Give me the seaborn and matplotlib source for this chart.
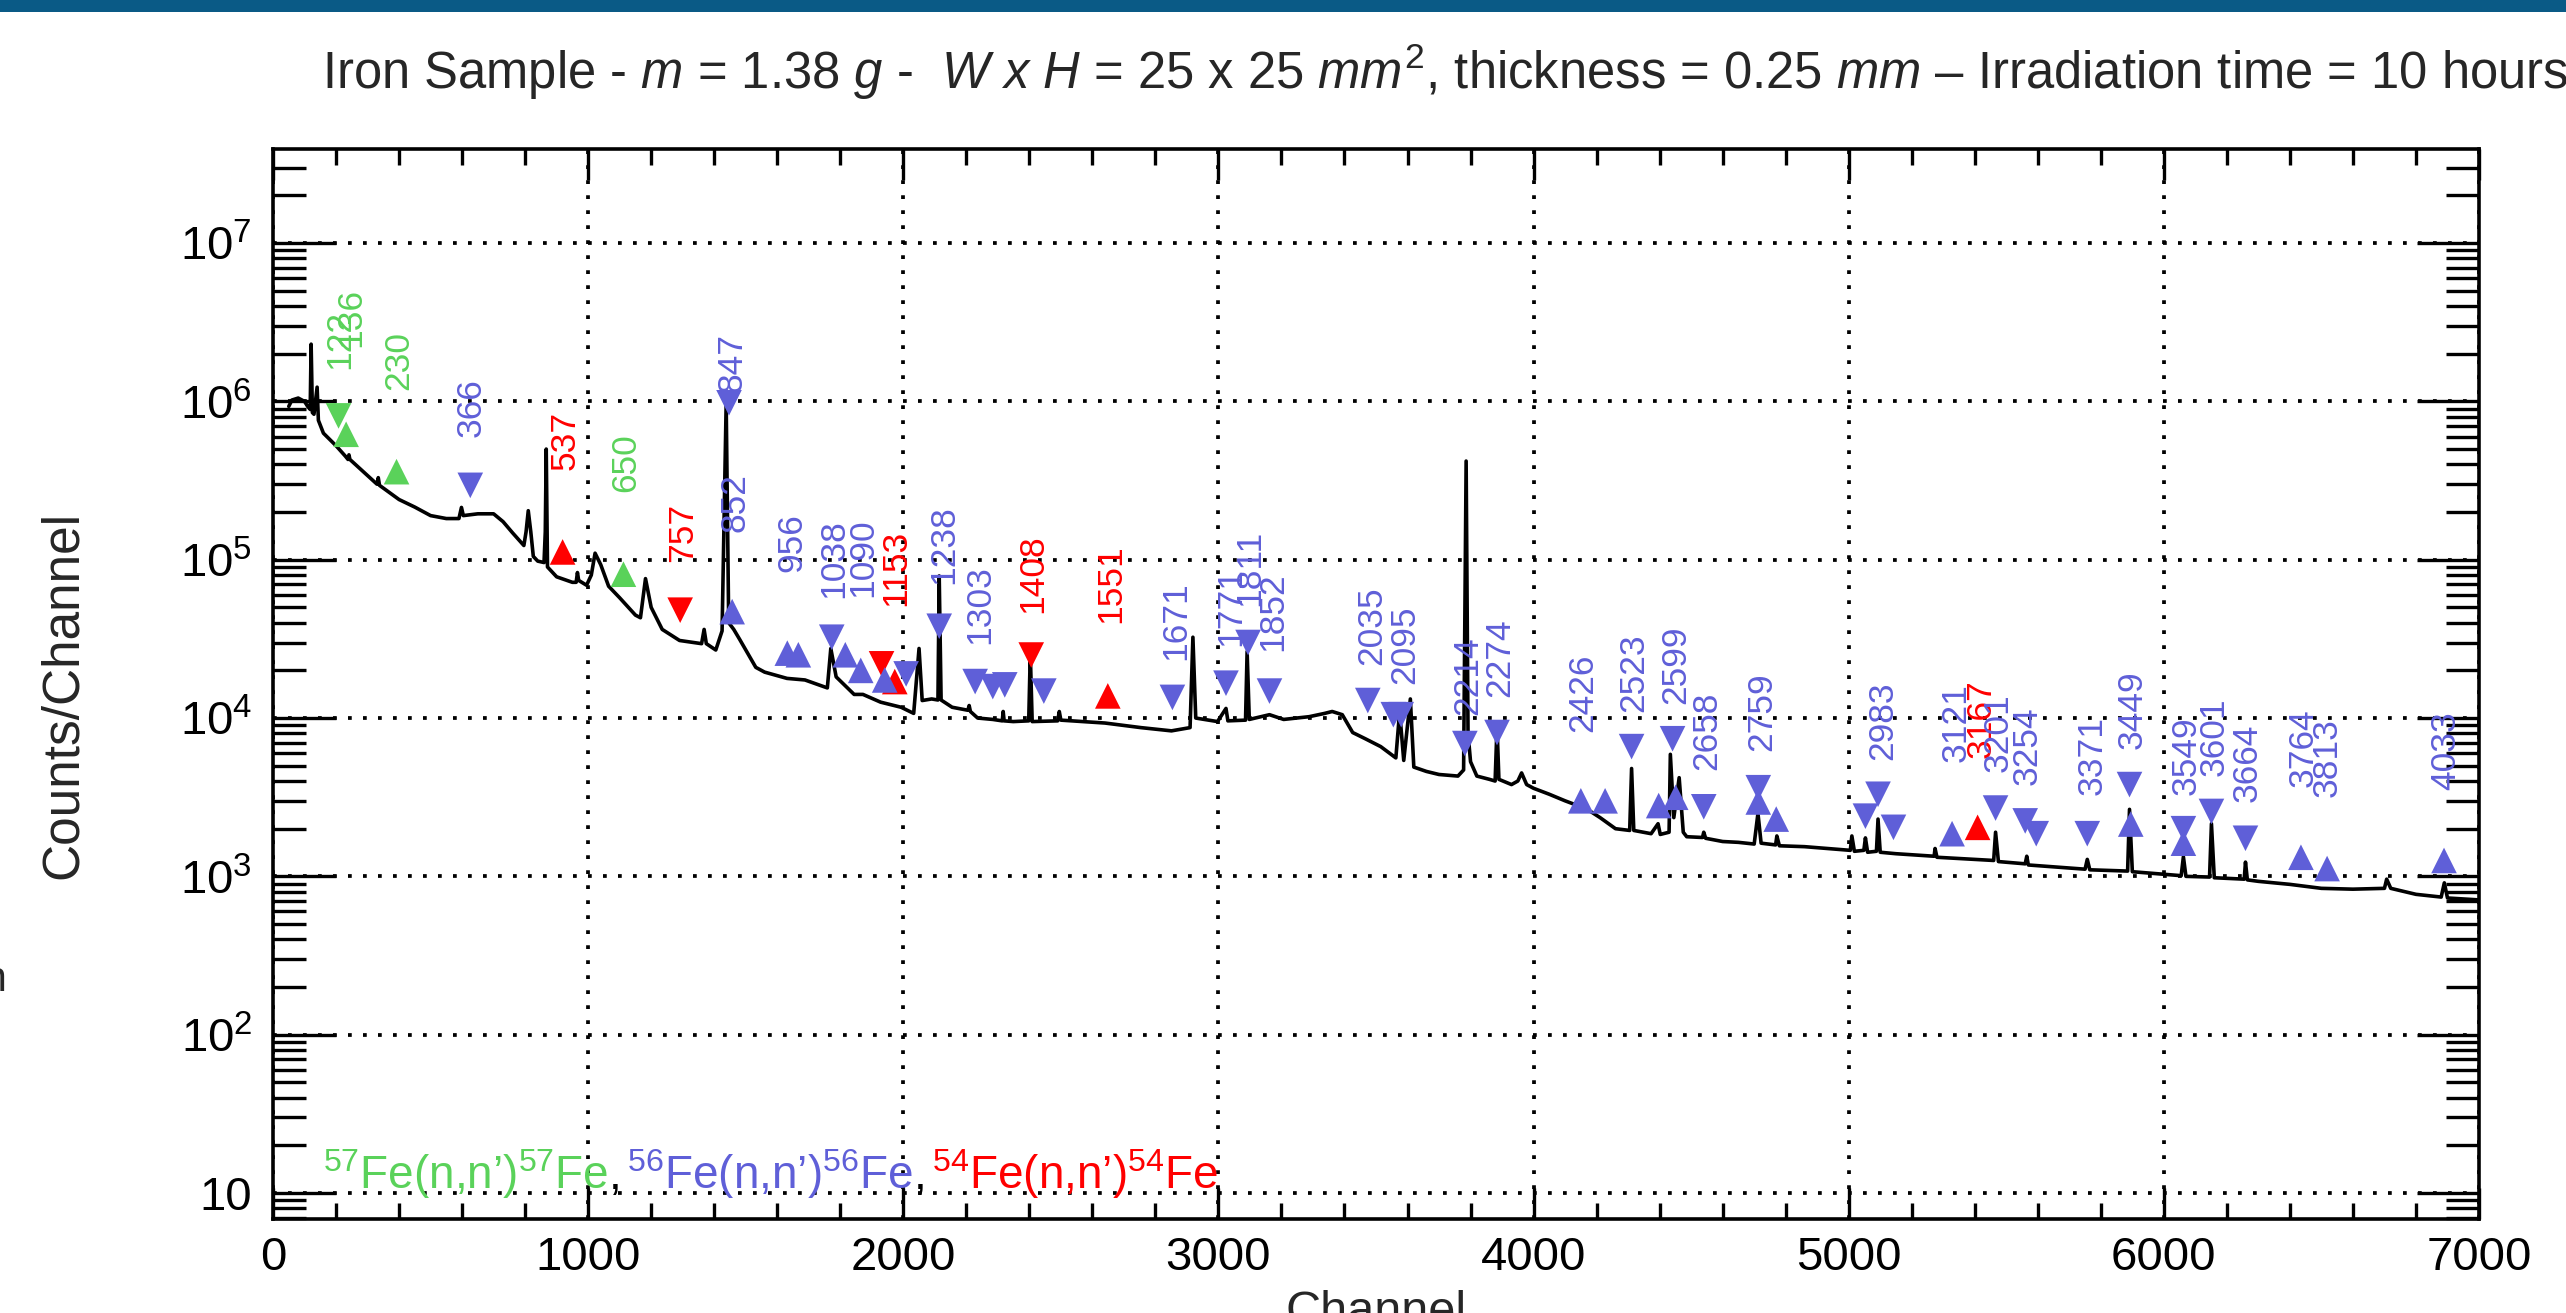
import numpy as np
import pandas as pd
import matplotlib
matplotlib.use("Agg")
import matplotlib.pyplot as plt
import matplotlib.transforms as mtransforms
from matplotlib.ticker import MultipleLocator, LogLocator, FixedLocator, FuncFormatter, NullFormatter
from matplotlib.patches import Rectangle
import seaborn as sns

# spectrum (channel, counts/channel)
spec_channel = [50, 60, 80, 100, 110, 118, 121, 125, 130, 140, 144, 160, 180, 200, 230, 238, 241, 244,
                280, 330, 334, 338, 400, 450, 500, 550, 590, 598, 604, 650, 700, 730, 760, 796, 803,
                810, 818, 826, 840, 860, 864, 867, 871, 900, 950, 962, 966, 970, 995, 1010, 1022, 1040,
                1065, 1100, 1150, 1166, 1182, 1200, 1235, 1290, 1360, 1368, 1375, 1405, 1425, 1438,
                1446, 1462, 1480, 1532, 1560, 1631, 1688, 1759, 1770, 1787, 1844, 1872, 1928, 1993,
                2033, 2050, 2060, 2090, 2110, 2114, 2120, 2155, 2205, 2209, 2213, 2236, 2284, 2314,
                2317, 2320, 2349, 2398, 2403, 2409, 2490, 2495, 2500, 2640, 2754, 2851, 2910, 2919,
                2928, 2997, 3024, 3030, 3086, 3091, 3098, 3162, 3207, 3288, 3337, 3361, 3393, 3426,
                3466, 3515, 3563, 3575, 3588, 3609, 3620, 3660, 3700, 3760, 3778, 3786, 3792, 3800,
                3820, 3860, 3878, 3884, 3890, 3930, 3950, 3962, 3978, 4000, 4050, 4100, 4140, 4150,
                4158, 4211, 4260, 4305, 4311, 4318, 4373, 4395, 4402, 4430, 4434, 4445, 4462, 4475,
                4486, 4536, 4540, 4546, 4600, 4650, 4700, 4712, 4722, 4768, 4772, 4780, 4860, 4950,
                5005, 5010, 5018, 5048, 5053, 5060, 5088, 5093, 5100, 5150, 5200, 5271, 5274, 5280,
                5400, 5460, 5466, 5475, 5560, 5565, 5570, 5700, 5750, 5757, 5765, 5885, 5891, 5900,
                6000, 6055, 6062, 6070, 6145, 6151, 6160, 6255, 6259, 6265, 6300, 6400, 6500, 6600,
                6700, 6707, 6720, 6800, 6880, 6890, 6900, 7000]
spec_counts = [9.3e5, 1.02e6, 1.05e6, 1.0e6, 9.3e5, 8.9e5, 2.3e6, 8.5e5, 8.3e5, 1.23e6, 7.6e5, 6.3e5,
               5.75e5, 5.25e5, 4.5e5, 4.3e5, 4.6e5, 4.3e5, 3.7e5, 3.0e5, 3.3e5, 2.95e5, 2.4e5, 2.15e5,
               1.9e5, 1.82e5, 1.82e5, 2.14e5, 1.9e5, 1.95e5, 1.95e5, 1.74e5, 1.48e5, 1.23e5, 1.5e5,
               2.04e5, 1.5e5, 1.05e5, 9.8e4, 9.6e4, 1.5e5, 5.0e5, 9.0e4, 7.8e4, 7.2e4, 7.2e4, 8.3e4,
               7.4e4, 6.9e4, 8.0e4, 1.1e5, 9.3e4, 6.8e4, 5.75e4, 4.47e4, 4.3e4, 7.6e4, 5.0e4, 3.63e4,
               3.09e4, 2.95e4, 3.63e4, 2.95e4, 2.69e4, 3.55e4, 9.8e5, 4.0e4, 3.63e4, 3.16e4, 2.09e4,
               1.95e4, 1.78e4, 1.74e4, 1.55e4, 2.75e4, 1.82e4, 1.41e4, 1.41e4, 1.26e4, 1.17e4, 1.07e4,
               2.75e4, 1.29e4, 1.32e4, 1.3e4, 7.9e4, 1.3e4, 1.17e4, 1.12e4, 1.2e4, 1.1e4, 1.0e4, 9.8e3,
               9.6e3, 1.1e4, 9.6e3, 9.5e3, 9.6e3, 2.57e4, 9.5e3, 9.6e3, 1.1e4, 9.7e3, 9.3e3, 8.7e3,
               8.3e3, 8.7e3, 3.24e4, 1.0e4, 9.5e3, 1.15e4, 9.6e3, 9.7e3, 2.63e4, 9.8e3, 1.05e4, 9.8e3,
               1.02e4, 1.07e4, 1.1e4, 1.05e4, 8.1e3, 7.4e3, 6.6e3, 5.6e3, 1.1e4, 5.4e3, 1.32e4,
               4.9e3, 4.6e3, 4.4e3, 4.3e3, 4.7e3, 4.2e5, 8.0e3, 5.3e3,
               4.3e3, 4.1e3, 4.0e3, 8.9e3, 4.1e3, 3.8e3, 4.0e3, 4.5e3, 3.8e3, 3.6e3, 3.3e3, 3.0e3,
               2.8e3, 3.15e3, 2.75e3, 2.35e3, 2.0e3, 1.95e3, 4.8e3, 1.95e3, 1.86e3, 2.15e3, 1.84e3,
               1.9e3, 5.9e3, 2.35e3, 4.2e3, 1.9e3, 1.78e3, 1.76e3, 1.9e3, 1.74e3, 1.66e3, 1.64e3,
               1.6e3, 2.5e3, 1.62e3, 1.58e3, 1.8e3, 1.56e3, 1.54e3, 1.49e3, 1.46e3, 1.8e3, 1.44e3,
               1.46e3, 1.75e3, 1.42e3, 1.44e3, 2.3e3, 1.42e3, 1.39e3, 1.37e3, 1.34e3, 1.5e3, 1.32e3,
               1.28e3, 1.26e3, 1.9e3, 1.24e3, 1.2e3, 1.34e3, 1.18e3, 1.13e3, 1.11e3, 1.28e3, 1.1e3,
               1.08e3, 2.65e3, 1.07e3, 1.03e3, 1.01e3, 1.33e3, 1.0e3, 9.9e2, 2.15e3, 9.8e2, 9.6e2,
               1.23e3, 9.5e2, 9.3e2, 8.9e2, 8.4e2, 8.3e2, 8.4e2, 9.6e2, 8.4e2, 7.7e2, 7.4e2, 9.1e2,
               7.3e2, 7.1e2]

# gamma line markers
mk_channel = [208, 232, 392, 1112,
              919, 1292, 1931, 1973, 2406, 2649, 5409,
              626, 1447, 1457, 1632, 1667, 1773, 1816, 1865, 1941, 2009, 2114, 2228, 2284, 2322,
              2446, 2854, 3024, 3094, 3162, 3474, 3555, 3580, 3782, 3884, 4150, 4227, 4311, 4397,
              4441, 4451, 4540, 4713, 4713, 4770, 5053, 5093, 5142, 5328, 5466, 5560, 5595, 5757,
              5891, 5895, 6062, 6062, 6151, 6259, 6435, 6518, 6889]
mk_counts = [8.1e5, 6.2e5, 3.6e5, 8.1e4,
             1.12e5, 4.8e4, 2.2e4, 1.7e4, 2.5e4, 1.38e4, 2.04e3,
             2.95e5, 9.8e5, 4.7e4, 2.57e4, 2.51e4, 3.24e4, 2.51e4, 2.0e4, 1.74e4, 1.9e4, 3.8e4,
             1.7e4, 1.58e4, 1.62e4, 1.48e4, 1.35e4, 1.66e4, 3.0e4, 1.48e4, 1.29e4, 1.05e4, 1.05e4,
             6.9e3, 8.1e3, 3.0e3, 3.0e3, 6.6e3, 2.8e3, 7.4e3, 3.16e3, 2.75e3, 3.63e3, 2.95e3,
             2.3e3, 2.4e3, 3.3e3, 2.04e3, 1.86e3, 2.7e3, 2.24e3, 1.86e3, 1.86e3, 3.8e3, 2.14e3,
             2.0e3, 1.62e3, 2.57e3, 1.74e3, 1.32e3, 1.12e3, 1.26e3]
mk_dir = ["down", "up", "up", "up",
          "up", "down", "down", "up", "down", "up", "up",
          "down", "down", "up", "up", "up", "down", "up", "up", "up", "down", "down", "down", "down",
          "down", "down", "down", "down", "down", "down", "down", "down", "down", "down", "down",
          "up", "up", "down", "up", "down", "up", "down", "down", "up", "up", "down", "down",
          "down", "up", "down", "down", "down", "down", "down", "up", "down", "up", "down", "down",
          "up", "up", "up"]
mk_iso = ["57Fe"] * 4 + ["54Fe"] * 7 + ["56Fe"] * 51

# energy labels (keV) and where their text starts
lab_text = ["122", "136", "230", "650",
            "537", "757", "1153", "1408", "1551", "3167",
            "366", "847", "852", "956", "1038", "1090", "1238", "1303", "1671", "1771", "1811",
            "1852", "2035", "2095", "2214", "2274", "2426", "2523", "2599", "2658", "2759", "2983",
            "3121", "3201", "3254", "3371", "3449", "3549", "3601", "3664", "3764", "3813", "4033"]
lab_channel = [212, 248, 398, 1118,
               926, 1300, 1975, 2412, 2658, 5420,
               630, 1458, 1466, 1645, 1778, 1870, 2128, 2242, 2865, 3040, 3100,
               3172, 3488, 3592, 3792, 3893, 4155, 4318, 4450, 4550, 4724, 5108,
               5342, 5475, 5566, 5771, 5900, 6071, 6160, 6265, 6441, 6517, 6896]
lab_counts = [1.61e6, 2.21e6, 1.18e6, 2.69e5,
              3.68e5, 9.7e4, 5.09e4, 4.6e4, 3.96e4, 5.56e3,
              5.98e5, 1.15e6, 1.5e5, 8.4e4, 5.69e4, 5.83e4, 7.05e4, 2.93e4, 2.34e4, 2.86e4, 5.09e4,
              2.65e4, 2.17e4, 1.65e4, 1.05e4, 1.35e4, 8.2e3, 1.09e4, 1.22e4, 4.71e3, 6.22e3, 5.41e3,
              5.26e3, 4.58e3, 3.77e3, 3.27e3, 6.4e3, 3.27e3, 4.33e3, 2.93e3, 3.66e3, 3.18e3, 3.51e3]
lab_iso = ["57Fe"] * 4 + ["54Fe"] * 6 + ["56Fe"] * 33

iso_colors = {"57Fe": "#5ad25a", "56Fe": "#5f5fd8", "54Fe": "#ff0000"}

sns.set_theme(style="ticks")
plt.rcParams["font.family"] = ["Liberation Sans", "DejaVu Sans"]
plt.rcParams["mathtext.fontset"] = "custom"
plt.rcParams["mathtext.rm"] = "Liberation Sans"
plt.rcParams["mathtext.it"] = "Liberation Sans:italic"

W, H = 2566, 1313
fig = plt.figure(figsize=(W / 100, H / 100), dpi=100)
fig.patch.set_facecolor("white")
ax = fig.add_axes([273 / W, 94 / H, 2206 / W, 1070 / H])
ax.set_facecolor("white")

spec = pd.DataFrame({"channel": spec_channel, "counts": spec_counts})
sns.lineplot(data=spec, x="channel", y="counts", estimator=None, sort=False,
             color="black", linewidth=2.6, ax=ax)

marks = pd.DataFrame({"channel": mk_channel, "counts": mk_counts, "dir": mk_dir, "iso": mk_iso})
sns.scatterplot(data=marks, x="channel", y="counts", hue="iso", style="dir",
                palette=iso_colors, markers={"up": "^", "down": "v"},
                s=340, linewidth=0, legend=False, ax=ax, zorder=3)

for txt, ch, cnt, iso in zip(lab_text, lab_channel, lab_counts, lab_iso):
    ax.text(ch, cnt, txt, color=iso_colors[iso], fontsize=25.5, rotation=90,
            ha="left", va="center", rotation_mode="anchor", zorder=4)

ax.set_yscale("log")
ax.set_xlim(0, 7000)
ax.set_ylim(6.85, 3.93e7)

ax.xaxis.set_major_locator(MultipleLocator(1000))
ax.xaxis.set_minor_locator(MultipleLocator(200))
ax.yaxis.set_major_locator(FixedLocator([10, 1e2, 1e3, 1e4, 1e5, 1e6, 1e7]))
ax.yaxis.set_minor_locator(LogLocator(base=10, subs=np.arange(2, 10), numticks=30))
ax.yaxis.set_minor_formatter(NullFormatter())
ax.yaxis.set_major_formatter(FuncFormatter(
    lambda v, p: "10" if v == 10 else r"$\mathregular{10^{%d}}$" % round(np.log10(v))))

ax.tick_params(which="both", direction="in", top=True, right=True, width=2.4,
               colors="black", labelsize=34)
ax.tick_params(axis="x", which="major", length=22, pad=12)
ax.tick_params(axis="x", which="minor", length=11.5)
ax.tick_params(axis="y", which="major", length=45, pad=15)
ax.tick_params(axis="y", which="minor", length=24)
for sp in ax.spines.values():
    sp.set_linewidth(2.6)
    sp.set_color("black")

ax.grid(True, which="major", color="black", linestyle=(0, (1, 3)), linewidth=2.7)

ax.set_xlabel("Channel", fontsize=35)
ax.xaxis.set_label_coords(0.5, -0.066)
ax.set_ylabel("Counts/Channel", fontsize=37)
ax.yaxis.set_label_coords(-0.084, 0.49)

# reaction key along the bottom
fig.canvas.draw()
renderer = fig.canvas.get_renderer()
parts = [(r"$^{57}$Fe(n,n’)$^{57}$Fe", iso_colors["57Fe"]), (",", "black"),
         (r"$^{56}$Fe(n,n’)$^{56}$Fe", iso_colors["56Fe"]), (",", "black"),
         (r"$^{54}$Fe(n,n’)$^{54}$Fe", iso_colors["54Fe"])]
trans = ax.transData
for s, c in parts:
    t = ax.text(160, 10.6, s, color=c, fontsize=33, va="baseline", transform=trans, zorder=5)
    t.draw(renderer)
    ex = t.get_window_extent(renderer)
    gap = 6 if s == "," else 0
    trans = mtransforms.offset_copy(t.get_transform(), x=ex.width + gap, units="dots")

fig.text(322 / W, 1 - 72 / H,
         r"Iron Sample - $m$ = 1.38 $g$ -  $W\ x\ H$ = 25 x 25 $mm^2$, thickness = 0.25 $mm$ – Irradiation time = 10 hours",
         fontsize=36.5, ha="left", va="center")

fig.text(6 / W, 1 - 980 / H, "n", fontsize=31, ha="right", va="center")
fig.patches.append(Rectangle((0, 1 - 12 / H), 1, 12 / H, transform=fig.transFigure,
                             facecolor="#0a5a86", edgecolor="none"))

fig.savefig("out.png", dpi=100)
